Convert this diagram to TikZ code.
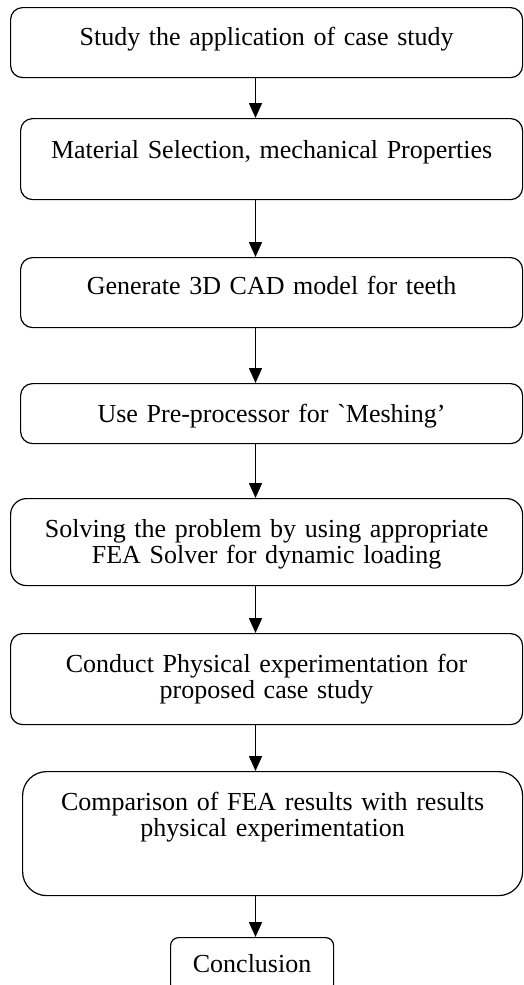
\documentclass[tikz,border=0pt]{standalone}
\usepackage{fontspec}
\setmainfont{Liberation Serif}
\newfontfamily\gravefont{Liberation Serif}[Ligatures=TeXOff]
\usetikzlibrary{arrows.meta,positioning}

\begin{document}
\begin{tikzpicture}[x=0.5pt, y=-0.5pt,
    stage/.style={draw, rounded corners=6pt, line width=0.6pt, anchor=north west, inner sep=0pt, align=center, font=\fontsize{13}{13}\selectfont},
    flow/.style={-{Triangle[length=7.5pt,width=6.5pt]}, line width=0.8pt}]
    \useasboundingbox (0,0) rectangle (524,985);

    \node[stage, text width=256pt, text height=19pt, text depth=16pt] (study) at (10,7) {Study the application of case study};
    \node[stage, text width=251pt, text height=20pt, text depth=20.5pt] (material) at (20,118) {Material Selection, mechanical Properties};
    \node[stage, text width=251pt, text height=18.5pt, text depth=16.5pt] (cad) at (20,257) {Generate 3D CAD model for teeth};
    \node[stage, text width=251pt, text height=19.5pt, text depth=10.5pt] (mesh) at (20,383) {Use Pre-processor for {\gravefont\symbol{96}}Meshing'};
    \node[stage, rounded corners=8pt, text width=256pt, text height=19.5pt, text depth=24pt] (solve) at (10,498) {Solving the problem by using appropriate\\FEA Solver for dynamic loading};
    \node[stage, text width=256pt, text height=19.5pt, text depth=26pt] (exper) at (10,633) {Conduct Physical experimentation for\\proposed case study};
    \node[stage, rounded corners=12pt, text width=250pt, text height=19.5pt, text depth=42.5pt] (compare) at (22,771) {Comparison of FEA results with results\\physical experimentation};
    \node[stage, rounded corners=4pt, text width=81.5pt, text height=17.5pt, text depth=10pt] (concl) at (170,937) {Conclusion};

    \coordinate (spine) at (255.5,0);
    \draw[flow] (study.south -| spine) -- (material.north -| spine);
    \draw[flow] (material.south -| spine) -- (cad.north -| spine);
    \draw[flow] (cad.south -| spine) -- (mesh.north -| spine);
    \draw[flow] (mesh.south -| spine) -- (solve.north -| spine);
    \draw[flow] (solve.south -| spine) -- (exper.north -| spine);
    \draw[flow] (exper.south -| spine) -- (compare.north -| spine);
    \draw[flow] (compare.south -| spine) -- (concl.north -| spine);
\end{tikzpicture}
\end{document}
